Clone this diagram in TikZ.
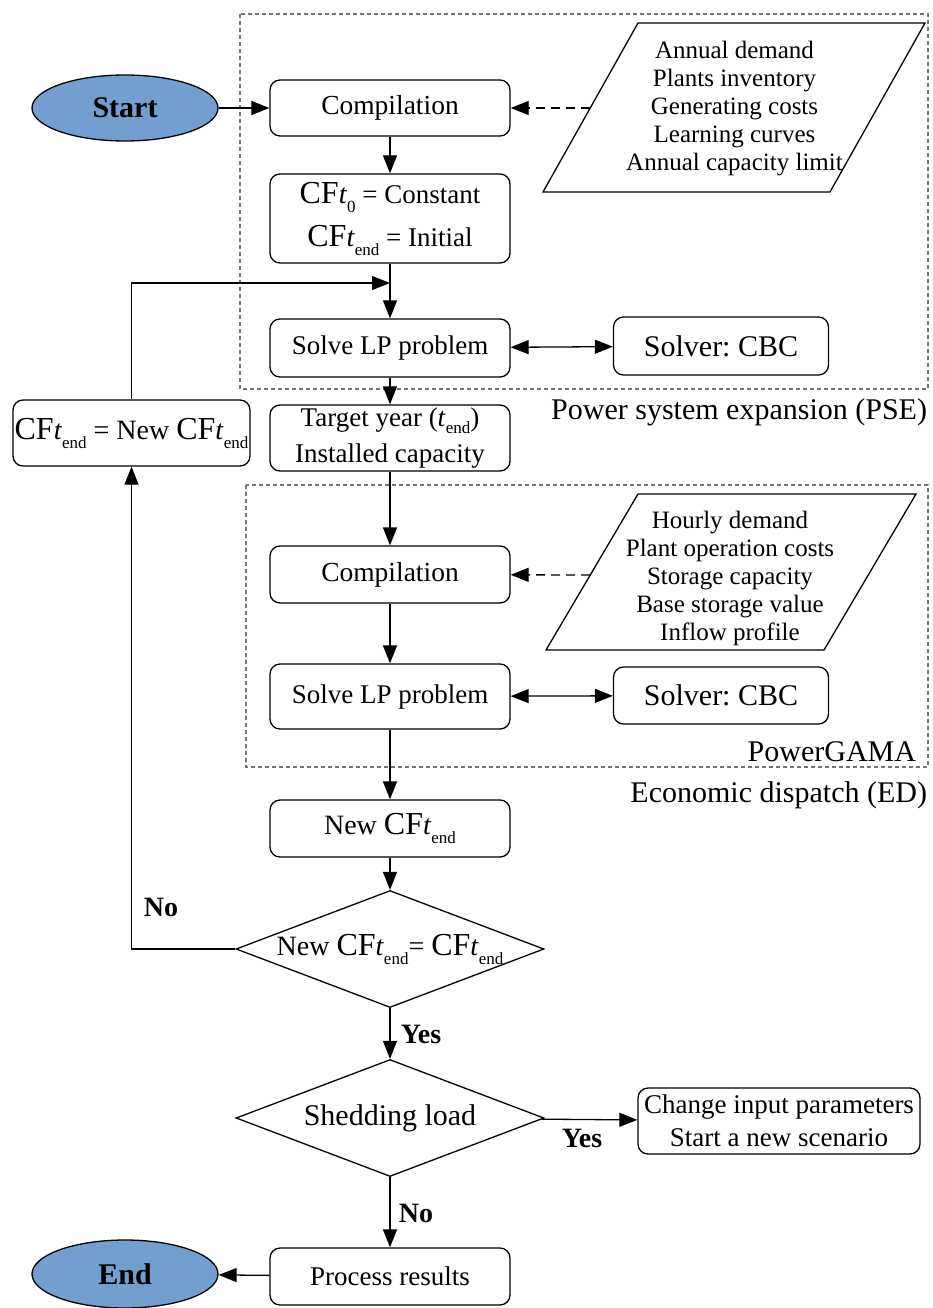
\documentclass[tikz,border=0pt]{standalone}
\usepackage{fontspec}
\setmainfont{Liberation Serif}
\usetikzlibrary{shapes.geometric,arrows.meta}
\frenchspacing

\newlength{\du}
\setlength{\du}{1pt}
\newcommand{\fs}[2]{\fontsize{#1}{#2}\selectfont}
\newcommand{\cft}[1]{{\fs{32}{34}CF}{\fs{28}{30}\textit{t}}\raisebox{-9\du}{\fs{17}{17}#1}}
\newcommand{\tsub}[1]{\textit{t}\raisebox{-7\du}{\fs{17}{17}#1}}

\definecolor{termblue}{rgb}{0.447059, 0.623529, 0.811765}
\definecolor{framegray}{rgb}{0.450000, 0.450000, 0.450000}

\tikzset{
  proc/.style={draw, rounded corners=10\du, minimum width=240\du, inner sep=0pt, align=center, fill=white},
  term/.style={draw, ellipse, fill=termblue, minimum width=186\du, minimum height=66\du, font=\bfseries\fs{30}{34}},
  decide/.style={draw, diamond, minimum width=308\du, minimum height=117\du, inner sep=0pt, fill=white},
  groupframe/.style={draw=framegray, dash pattern=on 4pt off 3pt, line width=1.6\du},
  datalist/.style={align=center, font=\fs{25}{28}},
  lbl/.style={font=\bfseries\fs{28}{30}},
  dataflow/.style={->, dash pattern=on 9pt off 6pt}
}

\begin{document}
\begin{tikzpicture}[line width=1.3pt, >={Triangle[length=18pt,width=14pt]}]
\pgftransformyscale{-1.000000}
\useasboundingbox (0.000000\du,0.000000\du) rectangle (932.000000\du,1308.000000\du);

% group frames
\draw[groupframe] (240.000000\du,14.000000\du) rectangle (928.000000\du,389.000000\du);
\draw[groupframe] (246.000000\du,485.000000\du) rectangle (928.000000\du,767.000000\du);
\node[anchor=east, font=\fs{30}{34}] (pselabel) at (931.000000\du,412.000000\du) {Power system expansion (PSE)};
\node[anchor=east, font=\fs{30}{34}] (gamalabel) at (920.000000\du,752.000000\du) {PowerGAMA};
\node[anchor=east, font=\fs{30}{34}] (edlabel) at (931.000000\du,795.000000\du) {Economic dispatch (ED)};

% expansion part
\node[term] (start) at (125.000000\du,108.000000\du) {Start};
\node[proc, minimum height=56\du, font=\fs{27.5}{32}] (comp1) at (390.000000\du,108.000000\du) {Compilation};
\draw (543.000000\du,192.000000\du) -- (830.000000\du,192.000000\du) -- (925.000000\du,23.000000\du) -- (638.000000\du,23.000000\du) -- cycle;
\node[datalist] (inputs1) at (734.500000\du,109.000000\du) {Annual demand\\Plants inventory\\Generating costs\\Learning curves\\Annual capacity limit};
\coordinate (src1) at (590.000000\du,108.000000\du);
\node[proc, minimum height=89\du, font=\fs{27}{43}] (cfinit) at (390.000000\du,218.500000\du) {\cft{0} = Constant\\\cft{end} = Initial};
\coordinate (join) at (390.000000\du,283.000000\du);
\node[proc, minimum height=58\du, font=\fs{27}{32}] (solve1) at (390.000000\du,348.000000\du) {Solve LP problem};
\node[proc, minimum width=215\du, minimum height=58\du, font=\fs{30}{34}] (cbc1) at (721.000000\du,346.000000\du) {Solver: CBC};
\node[proc, minimum height=66\du, font=\fs{27}{36}] (target) at (390.000000\du,438.000000\du) {Target year (\tsub{end})\\Installed capacity};
\node[proc, minimum width=237\du, minimum height=66\du, font=\fs{28}{32}] (update) at (131.500000\du,433.000000\du) {\cft{end} = New \cft{end}};

% dispatch part
\node[proc, minimum height=57\du, font=\fs{27.5}{32}] (comp2) at (390.000000\du,574.500000\du) {Compilation};
\draw (546.000000\du,650.000000\du) -- (824.000000\du,650.000000\du) -- (916.000000\du,494.000000\du) -- (638.000000\du,494.000000\du) -- cycle;
\node[datalist] (inputs2) at (730.000000\du,578.000000\du) {Hourly demand\\Plant operation costs\\Storage capacity\\Base storage value\\Inflow profile};
\coordinate (src2) at (590.000000\du,575.000000\du);
\node[proc, minimum height=65\du, font=\fs{27}{32}] (solve2) at (390.000000\du,696.500000\du) {Solve LP problem};
\node[proc, minimum width=215\du, minimum height=57\du, font=\fs{30}{34}] (cbc2) at (721.000000\du,695.500000\du) {Solver: CBC};
\node[proc, minimum height=57\du, font=\fs{28}{32}] (newcf) at (390.000000\du,828.500000\du) {New \cft{end}};

% decisions
\node[decide, font=\fs{28}{32}] (check) at (390.000000\du,949.000000\du) {\makebox[0pt]{New \cft{end}= \cft{end}}};
\node[decide, font=\fs{30}{34}] (shed) at (390.000000\du,1118.000000\du) {\makebox[0pt]{Shedding load}};
\node[proc, minimum width=282\du, minimum height=66\du, font=\fs{27}{33}] (change) at (779.000000\du,1121.000000\du) {Change input parameters\\Start a new scenario};
\node[proc, minimum height=57\du, font=\fs{27}{32}] (process) at (390.000000\du,1276.500000\du) {Process results};
\node[term, minimum height=68\du] (stop) at (125.000000\du,1274.000000\du) {End};

\node[lbl] (nolbl1) at (161.000000\du,907.000000\du) {No};
\node[lbl] (yeslbl1) at (421.000000\du,1034.000000\du) {Yes};
\node[lbl] (yeslbl2) at (582.000000\du,1138.000000\du) {Yes};
\node[lbl] (nolbl2) at (416.000000\du,1213.000000\du) {No};

% connectors
\draw[->] (start) -- (comp1);
\draw[dataflow] (src1) -- (comp1);
\draw[->] (comp1) -- (cfinit);
\draw[->] (cfinit) -- (solve1);
\draw[->] (update) |- (join);
\draw[<->] (solve1) -- (cbc1);
\draw[->] (solve1) -- (target);
\draw[->] (target) -- (comp2);
\draw[dataflow] (src2) -- (comp2);
\draw[->] (comp2) -- (solve2);
\draw[<->] (solve2) -- (cbc2);
\draw[->] (solve2) -- (newcf);
\draw[->] (newcf) -- (check);
\draw[->] (check) -| (update);
\draw[->] (check) -- (shed);
\draw[->] (shed) -- (change);
\draw[->] (shed) -- (process);
\draw[->] (process) -- (stop);
\end{tikzpicture}
\end{document}
